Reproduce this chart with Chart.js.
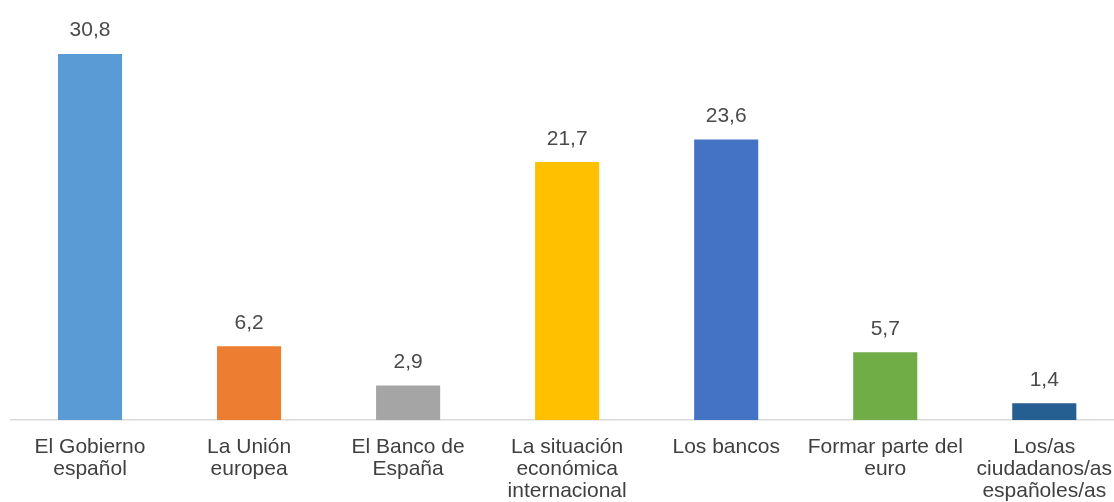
<!DOCTYPE html>
<html lang="es">
<head>
<meta charset="utf-8">
<title>Responsables de la situación</title>
<script src="https://cdn.jsdelivr.net/npm/chart.js@4/dist/chart.umd.min.js"></script>
<style>
  html, body { margin: 0; padding: 0; background: #ffffff; overflow: hidden; }
  #wrap { width: 1128px; height: 502px; }
</style>
</head>
<body>
<div id="wrap"><canvas id="chart" width="1128" height="502"></canvas></div>
<script>
// Categorías (cada elemento es una etiqueta de varias líneas)
const categories = [
  ["El Gobierno", "español"],
  ["La Unión", "europea"],
  ["El Banco de", "España"],
  ["La situación", "económica", "internacional"],
  ["Los bancos"],
  ["Formar parte del", "euro"],
  ["Los/as", "ciudadanos/as", "españoles/as"]
];

// Porcentajes
const values = [30.8, 6.2, 2.9, 21.7, 23.6, 5.7, 1.4];

// Colores de cada barra
const barColors = ["#5B9BD5", "#ED7D31", "#A5A5A5", "#FFC000", "#4472C4", "#70AD47", "#255E91"];

const FONT = "'Liberation Sans', Arial, sans-serif";

// Etiquetas de valor sobre cada barra, con coma decimal
const valueLabels = {
  id: "valueLabels",
  afterDatasetsDraw(chart) {
    const ctx = chart.ctx;
    const meta = chart.getDatasetMeta(0);
    ctx.save();
    ctx.font = "21px " + FONT;
    ctx.fillStyle = "#4a4a4a";
    ctx.textAlign = "center";
    ctx.textBaseline = "alphabetic";
    meta.data.forEach((bar, i) => {
      const txt = values[i].toFixed(1).replace(".", ",");
      ctx.fillText(txt, bar.x, bar.y - 17.5);
    });
    ctx.restore();
  }
};

new Chart(document.getElementById("chart"), {
  type: "bar",
  data: {
    labels: categories,
    datasets: [{
      data: values,
      backgroundColor: barColors,
      borderWidth: 0,
      barPercentage: 0.403,
      categoryPercentage: 1.0
    }]
  },
  options: {
    responsive: false,
    animation: false,
    layout: { padding: { left: 10.5, right: 0, top: 4, bottom: 0 } },
    plugins: {
      legend: { display: false },
      tooltip: { enabled: false }
    },
    scales: {
      x: {
        grid: { display: false, drawTicks: false },
        border: { display: true, color: "#d9d9d9", width: 1.5 },
        ticks: {
          padding: 16,
          color: "#404040",
          font: { family: FONT, size: 21, lineHeight: 1.05 },
          maxRotation: 0,
          autoSkip: false
        },
        afterFit(scale) { scale.height = 82; }
      },
      y: {
        display: false,
        min: 0,
        max: 35
      }
    }
  },
  plugins: [valueLabels]
});
</script>
</body>
</html>
